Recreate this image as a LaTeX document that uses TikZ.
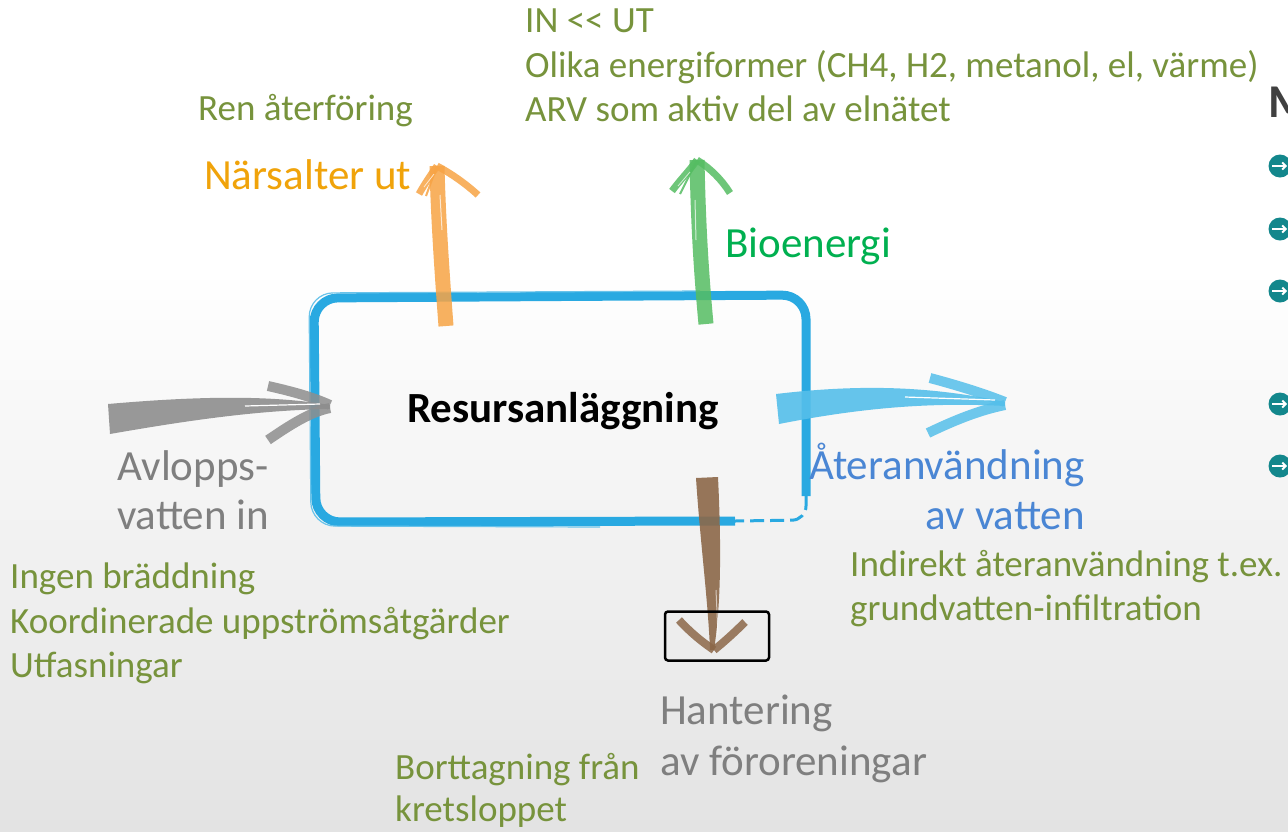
\documentclass[tikz,border=0pt]{standalone}
\usepackage{fontspec}
\setmainfont{Carlito}
\usetikzlibrary{arrows.meta}
\begin{document}
\begin{tikzpicture}[x=1pt,y=-1pt,
  olive/.style={text=oliveg,font=\fontsize{37}{44}\selectfont,inner sep=0pt,anchor=base west},
  biglabel/.style={font=\fontsize{43}{50}\selectfont,inner sep=0pt},
  brush/.style={line width=#1,opacity=0.85},
  bullet/.style={circle,fill=tealb,minimum size=23pt,inner sep=0pt}]
\definecolor{oliveg}{HTML}{77933C}
\definecolor{orangeT}{HTML}{F0A30A}
\definecolor{greenT}{HTML}{00B050}
\definecolor{blueT}{HTML}{4A86D4}
\definecolor{grayT}{HTML}{7F7F7F}
\definecolor{boxblue}{HTML}{29A9E1}
\definecolor{orangeA}{HTML}{F7A445}
\definecolor{greenA}{HTML}{55BD62}
\definecolor{grayA}{HTML}{8E8E8E}
\definecolor{blueA}{HTML}{55BFEA}
\definecolor{brownA}{HTML}{8C6849}
\definecolor{tealb}{HTML}{13878C}
\definecolor{darkM}{HTML}{404040}
% canvas
\useasboundingbox (0,0) rectangle (1288,831);
\clip (0,0) rectangle (1288,831);
\fill[white] (0,0) rectangle (1288,270);
\shade[top color=white,bottom color=black!11] (0,270) rectangle (1288,831);

% sketched process box
\draw[boxblue,line width=9pt,rounded corners=24pt]
  (735,521) -- (316,522) -- (314,298) -- (806,295) -- (806,496);
\draw[boxblue!70,line width=1.2pt,rounded corners=24pt]
  (600,527) -- (311,526) -- (309,293) -- (700,291);
\draw[boxblue,line width=3pt,dashed,dash pattern=on 14pt off 6pt,rounded corners=14pt]
  (806,496) -- (806,520) -- (735,521);
\node[font=\fontsize{43}{50}\selectfont\bfseries,inner sep=0pt,anchor=base] (plant) at (563,422) {Resursanläggning};

% anchor points of the brush arrows
\coordinate (oS) at (446,326); \coordinate (oT) at (437,166);
\coordinate (gS) at (706,324); \coordinate (gT) at (697,160);
\coordinate (wS) at (108,418); \coordinate (wT) at (330,405);
\coordinate (rS) at (776,408); \coordinate (rT) at (1005,402);
\coordinate (bS) at (707,478); \coordinate (bT) at (714,650);

% nutrients out (orange)
\draw[orangeA,brush=15pt] (oS) .. controls (441,260) and (438,210) .. (oT);
\draw[orangeA,brush=7pt] (oT) .. controls (430,176) and (424,185) .. (419,194);
\draw[orangeA,brush=7pt] (oT) .. controls (452,174) and (466,184) .. (478,195);
\draw[orangeA,brush=2pt] (oT) -- (426,196);
\draw[white,line width=1pt,opacity=0.7] (440,195) -- (442,230);
\draw[white,line width=0.8pt,opacity=0.7] (424,187) -- (434,174);

% bioenergy (green)
\draw[greenA,brush=15pt] (gS) .. controls (700,260) and (698,210) .. (gT);
\draw[greenA,brush=7pt] (gT) .. controls (690,170) and (680,180) .. (672,191);
\draw[greenA,brush=7pt] (gT) .. controls (710,168) and (722,180) .. (730,193);
\draw[greenA,brush=2pt] (gT) -- (680,194);
\draw[white,line width=1pt,opacity=0.7] (695,200) -- (696,240);
\draw[white,line width=0.8pt,opacity=0.7] (678,186) -- (690,172);

% waste water in (gray)
\fill[grayA,opacity=0.9] (108,404) .. controls (200,396) and (270,395) .. (wT)
  -- (330,409) .. controls (260,410) and (190,420) .. (110,434) -- cycle;
\draw[grayA,brush=10pt] (268,386) .. controls (295,392) and (315,398) .. (wT);
\draw[grayA,brush=10pt] (268,440) .. controls (290,425) and (310,412) .. (330,408);
\draw[white,line width=1.2pt] (245,406) -- (320,404);

% water reuse (light blue)
\fill[blueA,opacity=0.9] (776,394) .. controls (860,384) and (930,386) .. (rT)
  -- (1005,406) .. controls (930,402) and (860,408) .. (779,424) -- cycle;
\draw[blueA,brush=10pt] (930,378) .. controls (960,386) and (985,394) .. (rT);
\draw[blueA,brush=10pt] (928,433) .. controls (955,420) and (980,410) .. (1005,405);
\draw[white,line width=1.2pt] (905,397) -- (995,400);

% pollutant handling (brown)
\fill[brownA,opacity=0.9] (696,478) -- (718,477) .. controls (722,560) and (720,610) .. (bT)
  -- (710,650) .. controls (708,600) and (700,540) .. cycle;
\draw[brownA,brush=8pt] (679,620) .. controls (690,632) and (702,642) .. (bT);
\draw[brownA,brush=8pt] (745,622) .. controls (735,632) and (724,642) .. (bT);
\draw[white,line width=1pt,opacity=0.6] (716,590) -- (718,635);
\node[draw=black,line width=2.5pt,rounded corners=3pt,minimum width=104pt,minimum height=49pt,inner sep=0pt] (sink) at (717,636) {};

% labels
\node[biglabel,text=orangeT,anchor=base west] (nut) at (204,189) {Närsalter ut};
\node[biglabel,text=greenT,anchor=base west] (bio) at (725,257) {Bioenergi};
\node[biglabel,text=grayT,anchor=base] (in1) at (193,480) {Avlopps-};
\node[biglabel,text=grayT,anchor=base] (in2) at (193,529) {vatten in};
\node[biglabel,text=blueT,anchor=base east] (re1) at (1085,479) {Återanvändning};
\node[biglabel,text=blueT,anchor=base east] (re2) at (1085,529) {av vatten};
\node[biglabel,text=grayT,anchor=base west] (ha1) at (660,724) {Hantering};
\node[biglabel,text=grayT,anchor=base west] (ha2) at (660,775) {av föroreningar};

\node[olive] (t1) at (525,32) {IN <\kern0pt< UT};
\node[olive] (t2) at (525,77) {Olika energiformer (CH4, H2, metanol, el, värme)};
\node[olive] (t3) at (525,121) {ARV som aktiv del av elnätet};
\node[olive] (t4) at (198,120) {Ren återföring};
\node[olive] (t5) at (850,576) {Indirekt återanvändning t.ex.};
\node[olive] (t6) at (850,620) {grundvatten-infiltration};
\node[olive] (t7) at (10,588) {Ingen bräddning};
\node[olive] (t8) at (10,633) {Koordinerade uppströmsåtgärder};
\node[olive] (t9) at (10,677) {Utfasningar};
\node[olive] (t10) at (395,779) {Borttagning från};
\node[olive] (t11) at (395,821) {kretsloppet};

% side list, partly outside the frame
\node[font=\fontsize{47}{54}\selectfont\bfseries,text=darkM,inner sep=0pt,anchor=base west] (mh) at (1268,117) {M};
\foreach \yy/\nm in {166/b1,229/b2,291/b3,404/b4,466/b5}{
  \node[bullet] (\nm) at (1280,\yy) {};
  \draw[white,line width=1.8pt,-{Straight Barb[length=3.5pt,width=7pt]}] (1272,\yy) -- (1287,\yy);
}
\end{tikzpicture}
\end{document}
